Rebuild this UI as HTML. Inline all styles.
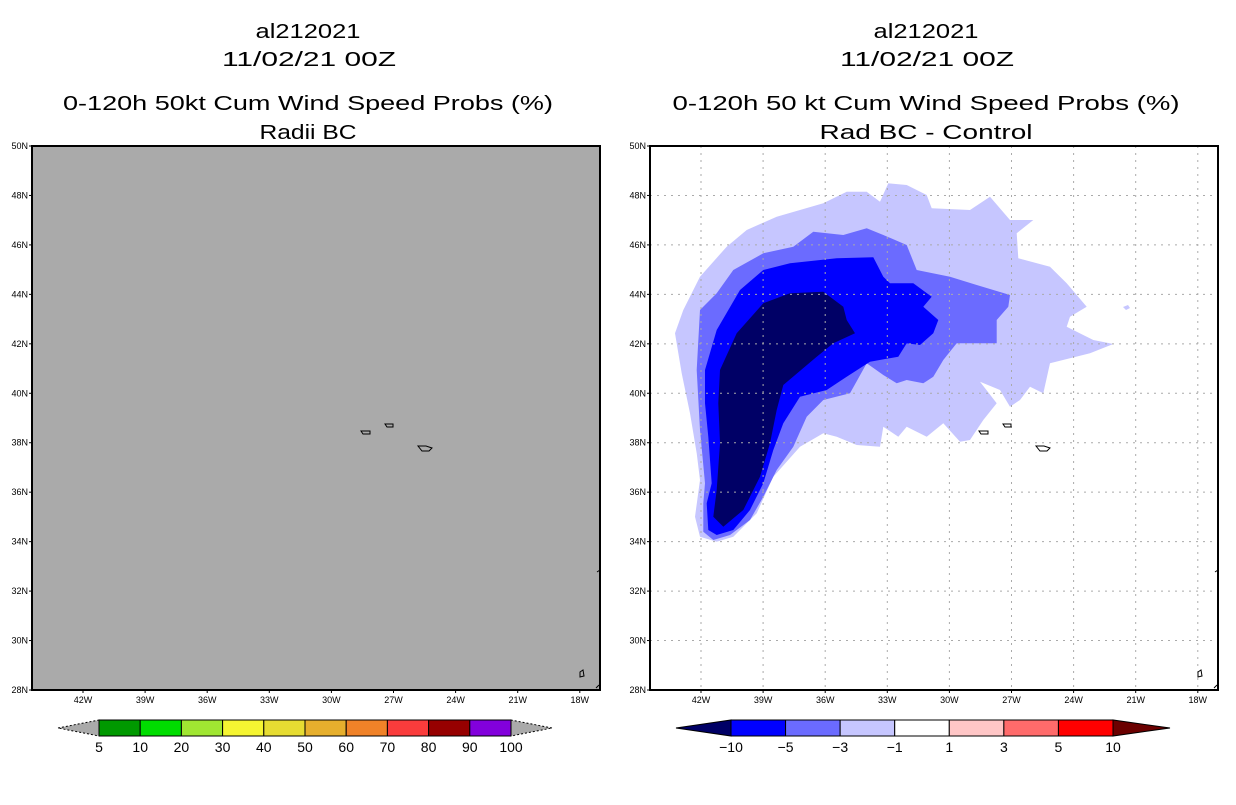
<!DOCTYPE html>
<html><head><meta charset="utf-8"><style>
body{margin:0;background:#fff;}
svg text{font-family:"Liberation Sans",sans-serif;fill:#000;}
</style></head><body>
<svg id="s" width="1236" height="800" xmlns="http://www.w3.org/2000/svg">
<g font-size="20" text-anchor="middle" lengthAdjust="spacingAndGlyphs">
<text x="308" y="38" textLength="105" lengthAdjust="spacingAndGlyphs">al212021</text><text x="309" y="66" textLength="174" lengthAdjust="spacingAndGlyphs">11/02/21 00Z</text>
<text x="308" y="110" textLength="490" lengthAdjust="spacingAndGlyphs">0-120h 50kt Cum Wind Speed Probs (%)</text><text x="308" y="139" textLength="97" lengthAdjust="spacingAndGlyphs">Radii BC</text></g>
<g font-size="20" text-anchor="middle">
<text x="926" y="38" textLength="105" lengthAdjust="spacingAndGlyphs">al212021</text><text x="927" y="66" textLength="174" lengthAdjust="spacingAndGlyphs">11/02/21 00Z</text>
<text x="926" y="110" textLength="507" lengthAdjust="spacingAndGlyphs">0-120h 50 kt Cum Wind Speed Probs (%)</text><text x="926" y="139" textLength="213" lengthAdjust="spacingAndGlyphs">Rad BC - Control</text></g>
<rect x="32" y="146" width="568" height="544" fill="#aaaaaa"/>
<g id="contours"></g>
<g id="grid"></g>
<g id="islands" fill="none" stroke="#000" stroke-width="1"></g>
<rect x="32" y="146" width="568" height="544" fill="none" stroke="#000" stroke-width="2"/>
<rect x="650" y="146" width="568" height="544" fill="none" stroke="#000" stroke-width="2"/>
<g id="axes" font-size="9"></g>
<g id="cb1"></g>
<g id="cb2"></g>
</svg>
<script>
const NS="http://www.w3.org/2000/svg";
const latTicks=[50,48,46,44,42,40,38,36,34,32,30,28];
const lonTicks=[42,39,36,33,30,27,24,21,18];
const probLevels=["5","10","20","30","40","50","60","70","80","90","100"];
const probColors=["#009900","#00dd00","#a0e632","#f5f532","#e6dc32","#e6af2d","#f08228","#fa3c3c","#960000","#8200dc"];
const diffLevels=["-10","-5","-3","-1","1","3","5","10"];
const diffColors=["#0000ff","#6b6bff","#c6c6ff","#ffffff","#ffc6c6","#ff6b6b","#ff0000"];
const light=[[75,490],[100,420],[150,320],[230,230],[290,180],[380,140],[520,100],[590,65],[650,65],[690,95],[715,40],[770,45],[830,75],[845,115],[960,120],[1020,80],[1080,150],[1150,150],[1100,190],[1105,265],[1200,290],[1250,340],[1310,410],[1260,440],[1250,470],[1330,510],[1390,522],[1320,550],[1200,580],[1180,670],[1140,650],[1110,690],[1080,710],[1050,660],[990,635],[1040,700],[1000,750],[960,810],[930,815],[880,760],[830,800],[770,770],[745,800],[700,770],[690,830],[620,825],[560,800],[520,790],[450,830],[370,920],[320,1030],[250,1100],[200,1115],[150,1100],[135,1040],[150,930],[140,850],[120,730],[95,610]];
const medium=[[150,420],[200,370],[250,300],[340,250],[430,230],[490,185],[580,195],[650,175],[700,195],[770,225],[800,300],[900,320],[980,345],[1080,375],[1075,410],[1040,450],[1040,520],[920,520],[880,570],[850,620],[820,640],[770,630],[740,640],[700,615],[650,580],[600,670],[520,690],[470,740],[430,830],[380,900],[340,980],[300,1050],[240,1095],[190,1110],[160,1085],[160,1000],[165,940],[150,780],[140,600]];
const blue=[[165,600],[200,480],[270,360],[340,300],[420,280],[560,265],[670,262],[700,320],[720,340],[790,340],[845,380],[820,410],[865,450],[850,490],[810,525],[770,520],[745,560],[660,575],[590,620],[530,660],[450,680],[400,760],[370,840],[340,940],[300,1020],[250,1080],[200,1095],[175,1080],[170,1000],[185,940],[175,800],[165,700]];
const navy=[[210,600],[260,490],[340,400],[420,370],[520,365],[580,410],[590,450],[615,490],[550,520],[500,560],[400,645],[380,720],[360,820],[330,920],[280,1020],[220,1070],[190,1040],[200,960],[210,820],[205,700]];
function el(t,a,p){const e=document.createElementNS(NS,t);for(const k in a)e.setAttribute(k,a[k]);p.appendChild(e);return e;}
const Y=lat=>146+(50-lat)*544/22;
const X=(x0,lon)=>x0+51+(42-lon)*20.7;
const cg=document.getElementById('contours');
[[light,"#c6c6ff","contour-minus1"],[medium,"#6b6bff","contour-minus3"],[blue,"#0000ff","contour-minus5"],[navy,"#000066","contour-minus10"]].forEach(([pts,c,n])=>{
 const p=el('polygon',{points:pts.map(q=>(650+q[0]/3).toFixed(1)+","+(170+q[1]/3).toFixed(1)).join(" "),fill:c},cg);
 });
el('polygon',{points:"1123,307 1128,305 1130,308 1126,310",fill:"#c6c6ff"},cg);
const g=document.getElementById('grid');
lonTicks.forEach(l=>{const x=X(650,l);const ln=el('line',{x1:x,x2:x,y1:146,y2:690,stroke:"#aaa","stroke-dasharray":"2,5"},g);});
latTicks.slice(1,-1).forEach(l=>{const y=Y(l);const ln=el('line',{x1:650,x2:1218,y1:y,y2:y,stroke:"#aaa","stroke-dasharray":"2,5"},g);});
const isl=document.getElementById('islands');
[0,618].forEach(dx=>{
 el('path',{d:`M${361+dx},431 h9 v3 h-7 z`},isl);
 el('path',{d:`M${385+dx},424 h8 v3 h-6 z`},isl);
 el('path',{d:`M${418+dx},446 l8,0 l6,2 l-3,3 h-7 z`},isl);
 el('path',{d:`M${597+dx},572 l3,-2 M${580+dx},672 l3,-2 l1,6 l-4,1 z M${596+dx},688 l3,-3`},isl);
});
const ax=document.getElementById('axes');
[32,650].forEach(x0=>{
 latTicks.forEach(l=>{const y=Y(l);const t=el('text',{x:x0-4,y:y+3,"text-anchor":"end"},ax);t.textContent=l+"N";el('line',{x1:x0-3,x2:x0,y1:y,y2:y,stroke:"#000"},ax);});
 lonTicks.forEach(l=>{const x=X(x0,l);const t=el('text',{x:x,y:703,"text-anchor":"middle"},ax);t.textContent=l+"W";el('line',{x1:x,x2:x,y1:690,y2:693,stroke:"#000"},ax);});
});
function bar(gid,x0,x1,tipL,tipR,levels,colors,lc,rc){
 const gg=document.getElementById(gid);const w=(x1-x0)/colors.length;
 el('polygon',{points:`${tipL},728 ${x0},720 ${x0},736`,fill:lc,stroke:"#000","stroke-dasharray":lc=="#aaaaaa"?"2,2":"none"},gg);
 el('polygon',{points:`${tipR},728 ${x1},720 ${x1},736`,fill:rc,stroke:"#000","stroke-dasharray":rc=="#aaaaaa"?"2,2":"none"},gg);
 colors.forEach((c,i)=>{const r=el('rect',{x:x0+i*w,y:720,width:w,height:16,fill:c,stroke:"#000"},gg);});
 levels.forEach((s,i)=>{const t=el('text',{x:x0+i*w,y:752,"text-anchor":"middle","font-size":"14"},gg);t.textContent=s.replace('-','\u2212');});
}
bar('cb1',99,511,58,552,probLevels,probColors,"#aaaaaa","#aaaaaa");
bar('cb2',731,1113,676,1170,diffLevels,diffColors,"#000066","#6b0000");
</script>
</body></html>
